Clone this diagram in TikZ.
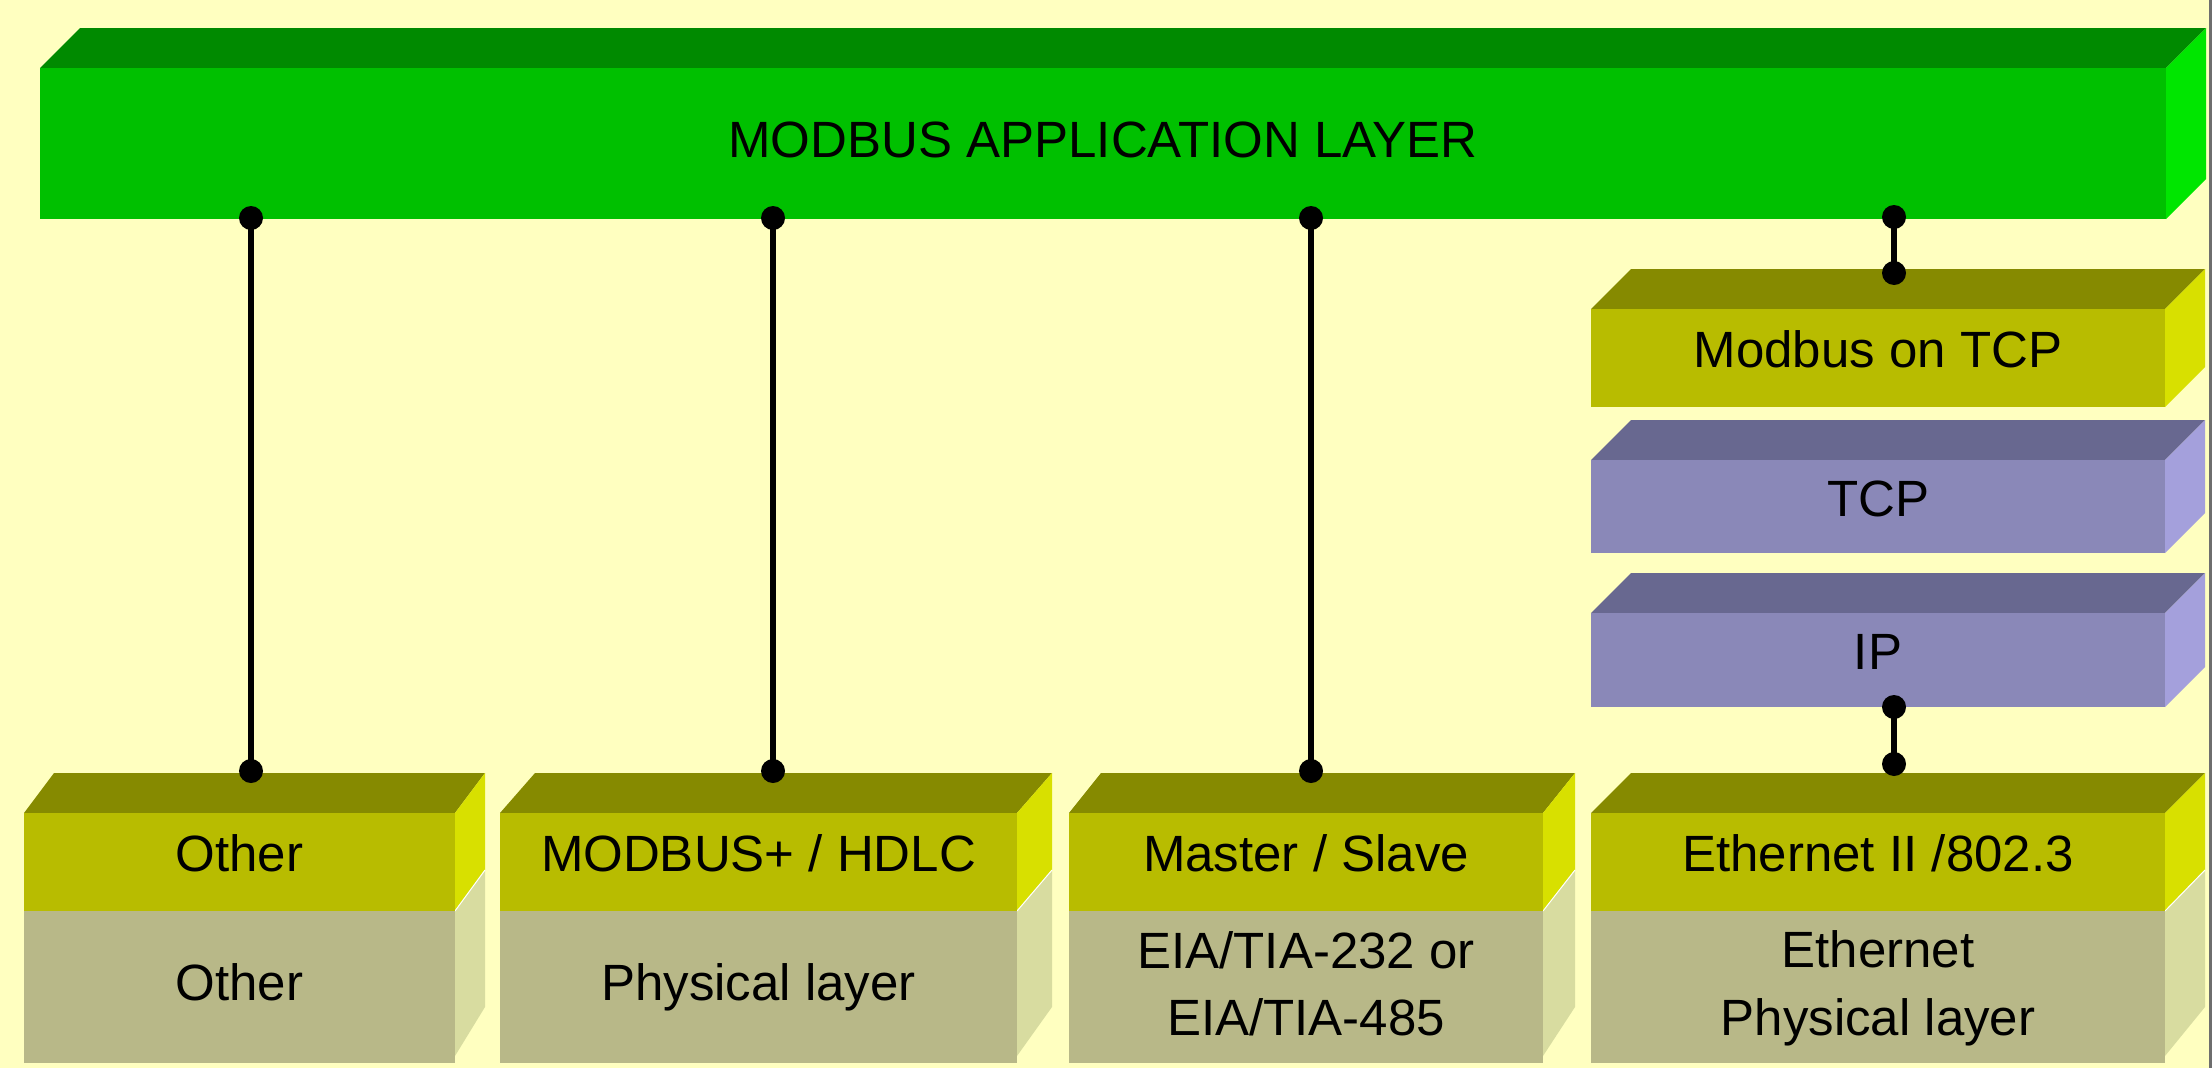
\documentclass[tikz,border=0pt]{standalone}
\usepackage{fontspec}
\setmainfont{Liberation Sans}
\definecolor{bg}{HTML}{FFFFC0}
\definecolor{gfront}{HTML}{00C000}
\definecolor{gtop}{HTML}{008A00}
\definecolor{gside}{HTML}{00E600}
\definecolor{yfront}{HTML}{B8BC00}
\definecolor{ytop}{HTML}{868A00}
\definecolor{yside}{HTML}{D8E000}
\definecolor{pfront}{HTML}{8A88B8}
\definecolor{ptop}{HTML}{686890}
\definecolor{pside}{HTML}{A4A0DC}
\definecolor{kfront}{HTML}{B8B888}
\definecolor{kside}{HTML}{D8DCA0}
\definecolor{frameline}{HTML}{6E6E6E}
\newcommand\lowerslab[3]{% #1 left, #2 right, #3 depth dx
  \fill[ytop] (#1,813) -- (#1+#3,773) -- (#2+#3,773) -- (#2,813) -- cycle;
  \fill[yside] (#2,813) -- (#2+#3,773) -- (#2+#3,870) -- (#2,911) -- cycle;
  \fill[kside] (#2,911) -- (#2+#3,870) -- (#2+#3,1007) -- (#2,1056) -- cycle;
  \draw[white, line width=1pt] (#2,911) -- (#2+#3,870);
}
\begin{document}
\begin{tikzpicture}[x=1pt,y=-1pt,
  face/.style={inner sep=0pt, outer sep=0pt, draw=none, anchor=north west},
  lbl/.style={anchor=base, inner sep=0pt, font=\fontsize{51}{60}\selectfont},
  conn/.style={line width=5.5pt},
  dot/.style={circle, fill=black, inner sep=0pt, minimum size=24pt}]
\useasboundingbox (0,0) rectangle (2212,1068);
\fill[bg] (0,0) rectangle (2212,1068);
\draw[frameline, line width=2.7pt] (2210.6,0) -- (2210.6,1068);

% application layer bar
\fill[gtop] (40,68) -- (80,28) -- (2206,28) -- (2166,68) -- cycle;
\fill[gside] (2166,68) -- (2206,28) -- (2206,179) -- (2166,219) -- cycle;
\node[face, fill=gfront, minimum width=2126pt, minimum height=151pt] (app) at (40,68) {};
\node[lbl] (tapp) at (1103,157) {MODBUS APPLICATION LAYER};

% Modbus on TCP
\fill[ytop] (1591,309) -- (1631,269) -- (2205,269) -- (2165,309) -- cycle;
\fill[yside] (2165,309) -- (2205,269) -- (2205,367) -- (2165,407) -- cycle;
\node[face, fill=yfront, minimum width=574pt, minimum height=98pt] (mtcp) at (1591,309) {};
\node[lbl] (tmtcp) at (1878,367) {Modbus on TCP};

% TCP
\fill[ptop] (1591,460) -- (1631,420) -- (2205,420) -- (2165,460) -- cycle;
\fill[pside] (2165,460) -- (2205,420) -- (2205,513) -- (2165,553) -- cycle;
\node[face, fill=pfront, minimum width=574pt, minimum height=93pt] (tcp) at (1591,460) {};
\node[lbl] (ttcp) at (1878,516) {TCP};

% IP
\fill[ptop] (1591,613) -- (1631,573) -- (2205,573) -- (2165,613) -- cycle;
\fill[pside] (2165,613) -- (2205,573) -- (2205,667) -- (2165,707) -- cycle;
\node[face, fill=pfront, minimum width=574pt, minimum height=94pt] (ip) at (1591,613) {};
\node[lbl] (tip) at (1878,669) {IP};

% lower stacks
\lowerslab{24}{455}{30}
\node[face, fill=yfront, minimum width=431pt, minimum height=98pt] (oth1) at (24,813) {};
\node[face, fill=kfront, minimum width=431pt, minimum height=152pt] (oth2) at (24,911) {};
\node[lbl] (toth1) at (239.5,871) {Other};
\node[lbl] (toth2) at (239.5,1000) {Other};

\lowerslab{500}{1017}{35}
\node[face, fill=yfront, minimum width=517pt, minimum height=98pt] (mbp1) at (500,813) {};
\node[face, fill=kfront, minimum width=517pt, minimum height=152pt] (mbp2) at (500,911) {};
\node[lbl] (tmbp1) at (758.5,871) {MODBUS+ / HDLC};
\node[lbl] (tmbp2) at (758.5,1000) {Physical layer};

\lowerslab{1069}{1543}{32}
\node[face, fill=yfront, minimum width=474pt, minimum height=98pt] (ms1) at (1069,813) {};
\node[face, fill=kfront, minimum width=474pt, minimum height=152pt] (ms2) at (1069,911) {};
\node[lbl] (tms1) at (1306,871) {Master / Slave};
\node[lbl] (tms2a) at (1306,968) {EIA/TIA-232 or};
\node[lbl] (tms2b) at (1306,1035) {EIA/TIA-485};

\lowerslab{1591}{2165}{40}
\node[face, fill=yfront, minimum width=574pt, minimum height=98pt] (eth1) at (1591,813) {};
\node[face, fill=kfront, minimum width=574pt, minimum height=152pt] (eth2) at (1591,911) {};
\node[lbl] (teth1) at (1878,871) {Ethernet II /802.3};
\node[lbl] (teth2a) at (1878,967) {Ethernet};
\node[lbl] (teth2b) at (1878,1035) {Physical layer};

% connectors
\node[dot] (a1) at (251,218) {};
\node[dot] (b1) at (251,771) {};
\node[dot] (a2) at (773,218) {};
\node[dot] (b2) at (773,771) {};
\node[dot] (a3) at (1311,218) {};
\node[dot] (b3) at (1311,771) {};
\node[dot] (a4) at (1894,217) {};
\node[dot] (b4) at (1894,273) {};
\node[dot] (a5) at (1894,707) {};
\node[dot] (b5) at (1894,764) {};
\draw[conn] (a1.center) -- (b1.center);
\draw[conn] (a2.center) -- (b2.center);
\draw[conn] (a3.center) -- (b3.center);
\draw[conn] (a4.center) -- (b4.center);
\draw[conn] (a5.center) -- (b5.center);
\end{tikzpicture}
\end{document}
